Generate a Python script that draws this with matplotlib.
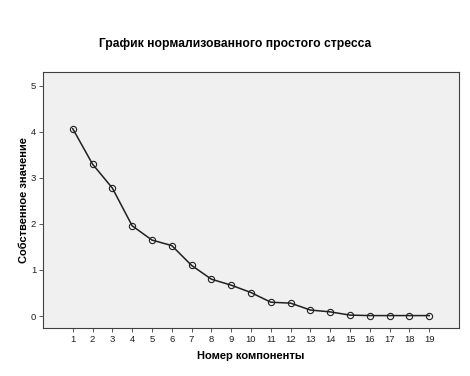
import matplotlib
matplotlib.use("Agg")
import matplotlib.pyplot as plt

# Scree plot values.
components = list(range(1, 20))
eigenvalues = [4.07, 3.30, 2.78, 1.96, 1.65, 1.53, 1.10, 0.80, 0.67, 0.51,
               0.30, 0.28, 0.13, 0.09, 0.02, 0.01, 0.01, 0.01, 0.01]
y_ticks = [0, 1, 2, 3, 4, 5]

title = "График нормализованного простого стресса"
x_label = "Номер компоненты"
y_label = "Собственное значение"

plt.rcParams["font.family"] = ["Liberation Sans", "DejaVu Sans"]

fig = plt.figure(figsize=(4.7, 3.76), dpi=100)
ax = fig.add_axes([43 / 470, 1 - 328 / 376, 416 / 470, 256 / 376])
ax.set_facecolor("#f0f0f0")

ax.plot(components, eigenvalues, color="#202020", linewidth=1.1,
        marker="o", markersize=4.5, markerfacecolor="none",
        markeredgecolor="#202020", markeredgewidth=0.8)

ax.set_xlim(-0.5, 20.5)
ax.set_ylim(-0.26, 5.3)
ax.set_xticks(components)
ax.set_yticks(y_ticks)
ax.tick_params(axis="both", labelsize=6.8, length=3, width=0.6,
               color="#404040", labelcolor="#202020", pad=2)

for side in ax.spines.values():
    side.set_color("#404040")
    side.set_linewidth(0.8)

ax.set_xlabel(x_label, fontsize=8, fontweight="bold", labelpad=5)
ax.set_ylabel(y_label, fontsize=8, fontweight="bold", labelpad=1.5)
fig.text(0.5, 1 - 44 / 376, title, ha="center", va="center",
         fontsize=8.7, fontweight="bold")

fig.savefig("out.png", dpi=100)
